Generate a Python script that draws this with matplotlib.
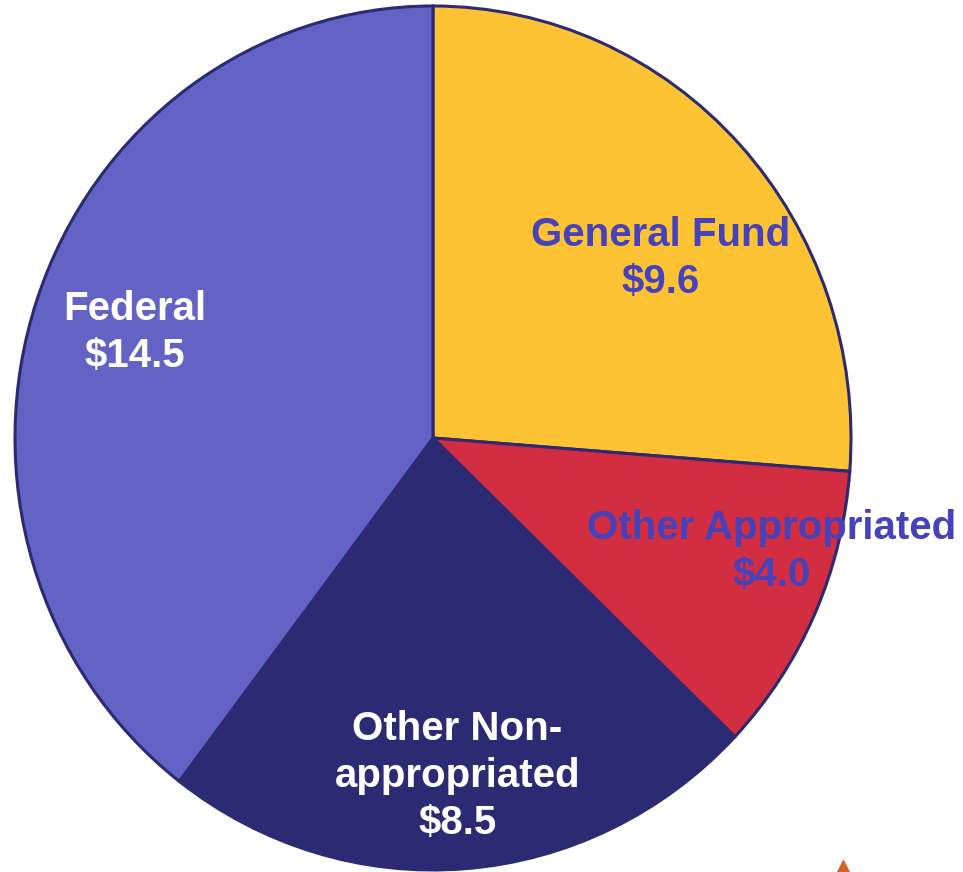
import matplotlib.pyplot as plt
import numpy as np

plt.rcParams['font.family'] = ['Liberation Sans', 'DejaVu Sans']

labels = ["General Fund", "Other Appropriated", "Other Non-\nappropriated", "Federal"]
values = [9.6, 4.0, 8.5, 14.5]
colors = ["#FDC332", "#D22D40", "#2B2A73", "#6363C6"]
text_colors = ["#4642BC", "#4642BC", "white", "white"]
# label centres (pie radius units)
label_pos = [(0.545, 0.415), (0.81, -0.262), (0.058, -0.782), (-0.713, 0.245)]

W, H = 963, 872
cx, cy = 433, 438      # pie centre in pixels
rx, ry = 418, 432      # pie radius in pixels (slightly stretched)

fig = plt.figure(figsize=(W / 100, H / 100), dpi=100)
ax = fig.add_axes([0, 0, 1, 1])

ax.pie(values, colors=colors, startangle=90, counterclock=False,
       wedgeprops=dict(edgecolor="#2B2A73", linewidth=2.2))
ax.set_aspect('auto')
ax.set_xlim(-cx / rx, (W - cx) / rx)
ax.set_ylim(-(H - cy) / ry, cy / ry)
ax.axis('off')

for lab, v, c, (x, y) in zip(labels, values, text_colors, label_pos):
    ax.text(x, y, f"{lab}\n${v:.1f}", ha='center', va='center', color=c,
            fontsize=29, fontweight='bold', linespacing=1.3)

# small orange arrow tip at the bottom edge
ax.plot([(843 - cx) / rx], [-(872 - cy) / ry], marker='^', markersize=17,
        color="#D2642A", clip_on=False)

fig.savefig("out.png", dpi=100)
